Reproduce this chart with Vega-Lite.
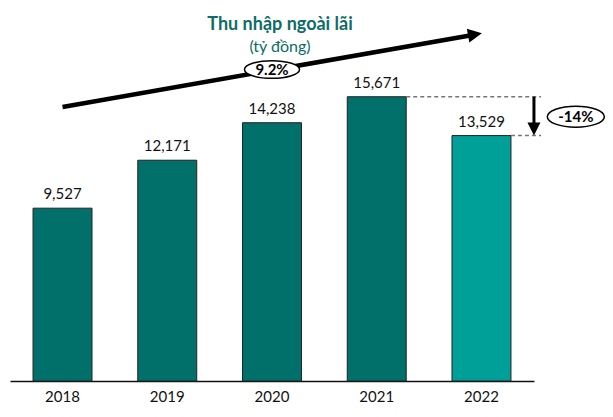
{
  "$schema": "https://vega.github.io/schema/vega-lite/v6.json",
  "width": 524,
  "height": 321,
  "autosize": "none",
  "padding": {"left": 10, "top": 60, "right": 79, "bottom": 36},
  "background": "white",
  "config": {
    "view": {"stroke": null},
    "font": "Lato",
    "axisX": {"title": null, "labelAngle": 0, "ticks": false, "grid": false, "domainColor": "#111111", "domainWidth": 1.5, "labelFont": "Lato", "labelFontSize": 15, "labelColor": "#111111", "labelPadding": 8},
    "axisY": {"disable": true}
  },
  "title": {
    "text": "Thu nhập ngoài lãi",
    "subtitle": "(tỷ đồng)",
    "anchor": "middle",
    "frame": "group",
    "dx": 8,
    "offset": -26,
    "font": "Lato",
    "fontSize": 18,
    "fontWeight": "bold",
    "color": "#0E6C66",
    "subtitleFont": "Lato",
    "subtitleFontSize": 16,
    "subtitleColor": "#0E6C66",
    "subtitlePadding": 5
  },
  "datasets": {
    "income": [
      {"year": "2018", "value": 9527, "kind": "past"},
      {"year": "2019", "value": 12171, "kind": "past"},
      {"year": "2020", "value": 14238, "kind": "past"},
      {"year": "2021", "value": 15671, "kind": "past"},
      {"year": "2022", "value": 13529, "kind": "latest"}
    ]
  },
  "layer": [
    {
      "data": {"name": "income"},
      "mark": {"type": "bar", "stroke": "#222222", "strokeWidth": 1},
      "encoding": {
        "x": {
          "field": "year", "type": "ordinal", "title": null,
          "scale": {"domain": ["2018", "2019", "2020", "2021", "2022"], "paddingInner": 0.437, "paddingOuter": 0.22}
        },
        "y": {"field": "value", "type": "quantitative", "title": null, "scale": {"domain": [0, 17696], "nice": false}},
        "color": {"field": "kind", "type": "nominal", "scale": {"domain": ["past", "latest"], "range": ["#01706A", "#00A099"]}, "legend": null}
      }
    },
    {
      "data": {"name": "income"},
      "mark": {"type": "text", "dy": -9, "baseline": "alphabetic", "fontSize": 15, "color": "#111111"},
      "encoding": {
        "x": {"field": "year", "type": "ordinal", "title": null},
        "y": {"field": "value", "type": "quantitative", "title": null},
        "text": {"field": "value", "type": "quantitative", "format": ","}
      }
    },
    {
      "data": {"values": [{"year": "2021", "end": "2022", "value": 15671}, {"year": "2022", "end": "2022", "value": 13529}]},
      "mark": {"type": "rule", "color": "#777777", "strokeWidth": 1.5, "strokeDash": [4, 3]},
      "encoding": {
        "x": {"field": "year", "type": "ordinal", "bandPosition": 1, "title": null},
        "x2": {"field": "end", "bandPosition": 1.51},
        "y": {"field": "value", "type": "quantitative", "title": null}
      }
    },
    {
      "data": {"values": [{"year": "2022", "from": 15671, "to": 14223}]},
      "mark": {"type": "rule", "color": "#000000", "strokeWidth": 3},
      "encoding": {
        "x": {"field": "year", "type": "ordinal", "bandPosition": 1.39, "title": null},
        "y": {"field": "from", "type": "quantitative", "title": null},
        "y2": {"field": "to"}
      }
    },
    {
      "data": {"values": [{"year": "2022", "value": 13892}]},
      "mark": {"type": "point", "shape": "M -1 -1 L 1 -1 L 0 1 Z", "size": 169, "filled": true, "color": "#000000", "opacity": 1, "strokeWidth": 0},
      "encoding": {
        "x": {"field": "year", "type": "ordinal", "bandPosition": 1.39, "title": null},
        "y": {"field": "value", "type": "quantitative", "title": null}
      }
    },
    {
      "data": {"values": [{"year": "2018", "end": "2022", "from": 15105, "to": 19046}]},
      "mark": {"type": "rule", "color": "#000000", "strokeWidth": 4.5},
      "encoding": {
        "x": {"field": "year", "type": "ordinal", "bandPosition": 0.5, "title": null},
        "x2": {"field": "end", "bandPosition": 0.305},
        "y": {"field": "from", "type": "quantitative", "title": null},
        "y2": {"field": "to"}
      }
    },
    {
      "data": {"values": [{"year": "2022", "value": 19101}]},
      "mark": {"type": "point", "shape": "M -1 -1 L 1 0 L -1 1 Z", "size": 196, "angle": -10, "filled": true, "color": "#000000", "opacity": 1, "strokeWidth": 0},
      "encoding": {
        "x": {"field": "year", "type": "ordinal", "bandPosition": 0.39, "title": null},
        "y": {"field": "value", "type": "quantitative", "title": null}
      }
    },
    {
      "data": {"values": [{"year": "2020", "value": 17172, "label": "9.2%"}]},
      "layer": [
        {
          "mark": {"type": "point", "shape": "M -1 0 A 1 0.32 0 1 0 1 0 A 1 0.32 0 1 0 -1 0 Z", "size": 3025, "filled": true, "fill": "white", "stroke": "#000000", "strokeWidth": 1.5, "opacity": 1}
        },
        {
          "mark": {"type": "text", "fontSize": 15, "fontWeight": "bold", "color": "#000000"},
          "encoding": {"text": {"field": "label"}}
        }
      ],
      "encoding": {
        "x": {"field": "year", "type": "ordinal", "bandPosition": 0.5, "title": null},
        "y": {"field": "value", "type": "quantitative", "title": null}
      }
    },
    {
      "data": {"values": [{"year": "2022", "value": 14570, "label": "-14%"}]},
      "layer": [
        {
          "mark": {"type": "point", "shape": "M -1 0 A 1 0.37 0 1 0 1 0 A 1 0.37 0 1 0 -1 0 Z", "size": 3249, "filled": true, "fill": "white", "stroke": "#000000", "strokeWidth": 1.5, "opacity": 1}
        },
        {
          "mark": {"type": "text", "fontSize": 15, "fontWeight": "bold", "color": "#000000"},
          "encoding": {"text": {"field": "label"}}
        }
      ],
      "encoding": {
        "x": {"field": "year", "type": "ordinal", "bandPosition": 2.1, "title": null},
        "y": {"field": "value", "type": "quantitative", "title": null}
      }
    }
  ]
}
